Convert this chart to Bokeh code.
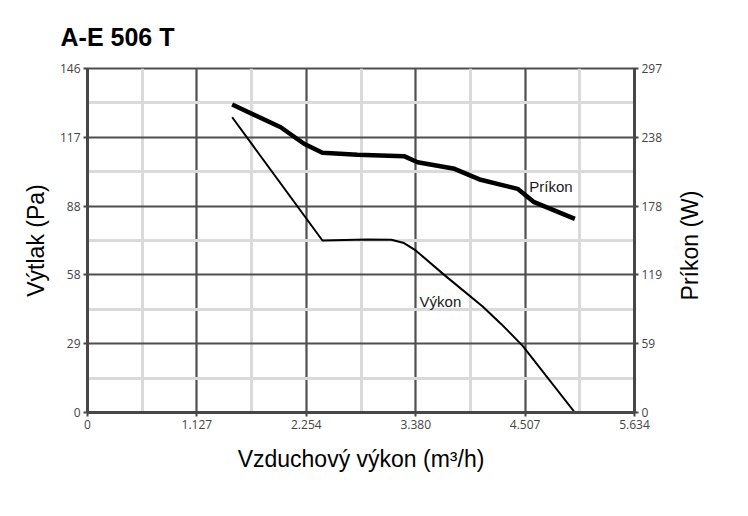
import math
from bokeh.plotting import figure
from bokeh.models import LinearAxis, Range1d, FixedTicker, Label
from bokeh.core.properties import value
from bokeh.embed import file_html
from bokeh.resources import INLINE

# ---------------- data ----------------
title_text = "A-E 506 T"
x_label = "Vzduchový výkon (m³/h)"
y_label = "Výtlak (Pa)"
y2_label = "Príkon (W)"

x_max = 5.634
y_max = 146
y2_max = 297

x_tick_labels = ["0", "1.127", "2.254", "3.380", "4.507", "5.634"]
y_tick_labels = ["0", "29", "58", "88", "117", "146"]
y2_tick_labels = ["0", "59", "119", "178", "238", "297"]

# Výkon curve: pressure (Pa) vs air flow
flow_p = [1.49, 2.42, 2.88, 3.13, 3.26, 3.38, 3.68, 4.07, 4.26, 4.48, 5.02]
pressure = [125.3, 73.0, 73.4, 73.3, 71.9, 68.8, 58.2, 45.0, 37.6, 28.4, 0.0]

# Príkon curve: power (W) vs air flow
flow_w = [1.49, 1.99, 2.23, 2.42, 2.78, 3.26, 3.40, 3.78, 4.05, 4.43, 4.60, 5.02]
power = [265.9, 246.3, 232.0, 224.2, 222.5, 221.3, 216.1, 210.4, 200.9, 193.1, 181.6, 167.2]

curve_names = ["Výkon", "Príkon"]
name_pos_x = [3.42, 4.55]
name_pos_y = [47.0, 195.0]

# ---------------- styling ----------------
AXIS_C = "#474747"
MAJOR_C = "#4f4f4f"
MINOR_C = "#dadada"
TICK_FONT = "Open Sans"
LABEL_FONT = "Liberation Sans"
FRAME_W, FRAME_H = 547, 344

n = len(x_tick_labels) - 1
x_ticks = [x_max * i / n for i in range(n + 1)]
x_minor = [x_max * (i + 0.5) / n for i in range(n)]
y_ticks = [y_max * i / n for i in range(n + 1)]
y_minor = [y_max * (i + 0.5) / n for i in range(n)]
y2_ticks = [y2_max * i / n for i in range(n + 1)]

p = figure(
    frame_width=FRAME_W, frame_height=FRAME_H,
    min_border_left=87, min_border_top=68, min_border_right=95, min_border_bottom=80,
    x_range=Range1d(0, x_max), y_range=Range1d(0, y_max),
    output_backend="svg", toolbar_location=None,
    background_fill_color="white", border_fill_color="white",
)
p.extra_y_ranges = {"power": Range1d(0, y2_max)}

p.title.text = title_text
p.title.text_font = LABEL_FONT
p.title.text_font_style = "bold"
p.title.text_font_size = "25px"
p.title.text_color = "black"
p.title.offset = -27
p.title.standoff = 36

p.outline_line_color = MAJOR_C
p.outline_line_width = 2

# grids
p.xgrid.ticker = FixedTicker(ticks=x_ticks, minor_ticks=x_minor)
p.ygrid.ticker = FixedTicker(ticks=y_ticks, minor_ticks=y_minor)
for g in (p.xgrid, p.ygrid):
    g.grid_line_color = MAJOR_C
    g.grid_line_width = 2.2
    g.minor_grid_line_color = MINOR_C
    g.minor_grid_line_width = 3

def style_axis(ax, ticks, labels, standoff):
    ax.ticker = FixedTicker(ticks=ticks)
    ax.major_label_overrides = {t: l for t, l in zip(ticks, labels)}
    ax.axis_line_color = AXIS_C
    ax.axis_line_width = 3
    ax.major_tick_line_color = AXIS_C
    ax.major_tick_line_width = 2
    ax.major_tick_out = 4
    ax.major_tick_in = 0
    ax.minor_tick_out = 0
    ax.minor_tick_in = 0
    ax.major_label_text_font = TICK_FONT
    ax.major_label_text_font_size = "12px"
    ax.major_label_text_color = "#444444"
    ax.major_label_standoff = 3
    ax.axis_label_text_font = LABEL_FONT
    ax.axis_label_text_font_size = "23px"
    ax.axis_label_text_font_style = "normal"
    ax.axis_label_text_color = "black"
    ax.axis_label_standoff = standoff

style_axis(p.xaxis[0], x_ticks, x_tick_labels, 14)
p.xaxis[0].axis_label = x_label
style_axis(p.yaxis[0], y_ticks, y_tick_labels, 8)
p.yaxis[0].axis_label = y_label

right = LinearAxis(y_range_name="power")
style_axis(right, y2_ticks, y2_tick_labels, 18)
p.add_layout(right, "right")

# right axis title, reading bottom-to-top, placed in the right side panel
p.add_layout(Label(
    x=(FRAME_W + 55) * x_max / FRAME_W, y=(FRAME_H / 2 - 5) * y_max / FRAME_H,
    text=y2_label, text_font=LABEL_FONT, text_font_size="23px", text_color="black",
    angle=math.pi / 2, text_baseline="middle", text_align="center",
), "right")

# curves
p.line(flow_p, pressure, line_color="black", line_width=2, line_join="round")
p.line(flow_w, power, y_range_name="power", line_color="black", line_width=4.5,
       line_join="round")

p.text(x=[name_pos_x[0]], y=[name_pos_y[0]], text=[curve_names[0]],
       text_font=value(LABEL_FONT), text_font_size="15px", text_color="#1a1a1a",
       text_baseline="middle", text_align="left")
p.text(x=[name_pos_x[1]], y=[name_pos_y[1]], text=[curve_names[1]], y_range_name="power",
       text_font=value(LABEL_FONT), text_font_size="15px", text_color="#1a1a1a",
       text_baseline="middle", text_align="left")

open("out.html", "w").write(file_html(p, INLINE))
